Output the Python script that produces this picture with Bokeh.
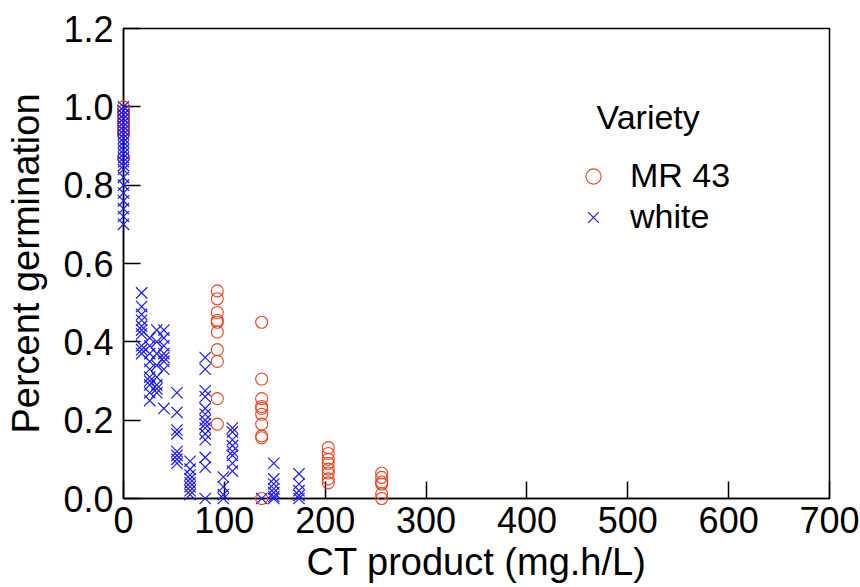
from bokeh.plotting import figure
from bokeh.models import (Range1d, Legend, LegendItem, FixedTicker, NumeralTickFormatter,
                          ColumnDataSource, Label)
from bokeh.embed import file_html
from bokeh.resources import INLINE

# ---- data: CT product (mg.h/L) columns and germination fractions ----
white_ct = [0, 18, 26, 33, 40, 53, 66, 81, 99, 108, 137, 149, 174]
white_germ = [
    [1.0, 0.99, 0.98, 0.97, 0.96, 0.95, 0.94, 0.93, 0.92, 0.91, 0.90, 0.89,
     0.88, 0.87, 0.86, 0.85, 0.84, 0.82, 0.80, 0.78, 0.76, 0.74, 0.72, 0.70],
    [0.525, 0.49, 0.47, 0.455, 0.44, 0.43, 0.42, 0.39, 0.38, 0.37],
    [0.41, 0.39, 0.37, 0.35, 0.33, 0.31, 0.30, 0.29, 0.27, 0.25],
    [0.43, 0.40, 0.37, 0.34, 0.31, 0.29, 0.28, 0.27],
    [0.43, 0.41, 0.39, 0.37, 0.36, 0.35, 0.33, 0.23],
    [0.27, 0.22, 0.175, 0.165, 0.12, 0.11, 0.10, 0.09],
    [0.095, 0.075, 0.06, 0.05, 0.04, 0.03, 0.02, 0.01],
    [0.36, 0.33, 0.275, 0.26, 0.23, 0.215, 0.20, 0.19, 0.18, 0.165, 0.15, 0.105, 0.08, 0.0],
    [0.055, 0.03, 0.01, 0.0],
    [0.18, 0.17, 0.15, 0.135, 0.12, 0.11, 0.09, 0.07],
    [0.0],
    [0.09, 0.05, 0.037, 0.025, 0.015, 0.005, 0.0],
    [0.063, 0.037, 0.02, 0.008, 0.0],
]

mr43_ct = [0, 93, 137, 203, 256]
mr43_germ = [
    [1.0, 0.99, 0.98, 0.97, 0.96, 0.95, 0.94, 0.93, 0.87],
    [0.53, 0.51, 0.475, 0.455, 0.45, 0.425, 0.38, 0.35, 0.255, 0.19],
    [0.45, 0.305, 0.255, 0.235, 0.23, 0.215, 0.19, 0.16, 0.155, 0.0],
    [0.13, 0.115, 0.10, 0.09, 0.075, 0.065, 0.05, 0.04],
    [0.065, 0.054, 0.042, 0.037, 0.012, 0.0],
]

x_ticks = [0, 100, 200, 300, 400, 500, 600, 700]
y_ticks = [0.0, 0.2, 0.4, 0.6, 0.8, 1.0, 1.2]


def flatten(cts, germs):
    xs, ys = [], []
    for c, g in zip(cts, germs):
        for v in g:
            xs.append(c)
            ys.append(v)
    return dict(x=xs, y=ys)


RED = "#E8431F"
BLUE = "#1A1AF2"
FONT = "Liberation Sans"

p = figure(width=860, height=587, output_backend="svg", toolbar_location=None,
           x_range=Range1d(0, 700), y_range=Range1d(0, 1.2),
           min_border_left=123, min_border_right=31, min_border_top=28,
           min_border_bottom=89)
p.background_fill_color = "white"
p.border_fill_color = "white"
p.xgrid.visible = False
p.ygrid.visible = False
p.outline_line_color = "black"
p.outline_line_width = 1.5

r_red = p.scatter("x", "y", source=ColumnDataSource(flatten(mr43_ct, mr43_germ)),
                  marker="circle", size=12, fill_color=None, line_color=RED,
                  line_width=1.1, level="overlay")
r_blue = p.scatter("x", "y", source=ColumnDataSource(flatten(white_ct, white_germ)),
                   marker="x", size=16, line_color=BLUE, fill_color=BLUE,
                   line_width=1.2, level="overlay")

for ax in (p.xaxis[0], p.yaxis[0]):
    ax.major_tick_in = 17
    ax.major_tick_out = 0
    ax.minor_tick_line_color = None
    ax.axis_line_width = 1.5
    ax.major_tick_line_width = 1.5
    ax.major_label_text_font = FONT
    ax.major_label_text_font_size = "36px"
    ax.major_label_text_color = "black"
    ax.axis_label_text_font = FONT
    ax.axis_label_text_font_size = "38px"
    ax.axis_label_text_font_style = "normal"
    ax.axis_label_text_color = "black"

p.xaxis.ticker = FixedTicker(ticks=x_ticks)
p.yaxis.ticker = FixedTicker(ticks=y_ticks)
p.yaxis.formatter = NumeralTickFormatter(format="0.0")
p.xaxis.axis_label = "CT product (mg.h/L)"
p.yaxis.axis_label = "Percent germination"
p.xaxis.major_label_standoff = 8
p.yaxis.major_label_standoff = 10
p.xaxis.axis_label_standoff = 5
p.yaxis.axis_label_standoff = 13

legend = Legend(items=[LegendItem(label="MR 43", renderers=[r_red]),
                       LegendItem(label="white", renderers=[r_blue])],
                location=(451, 262),
                border_line_color=None, background_fill_color=None,
                padding=0, margin=0, spacing=2,
                glyph_width=38, glyph_height=38, label_standoff=18,
                label_text_font=FONT, label_text_font_size="34px",
                label_text_color="black")
p.add_layout(legend)

title = Label(x=469, y=0.975, text="Variety", text_font=FONT, text_font_size="34px",
              text_color="black", text_baseline="middle", text_align="left")
p.add_layout(title)

open("out.html", "w").write(file_html(p, INLINE))
